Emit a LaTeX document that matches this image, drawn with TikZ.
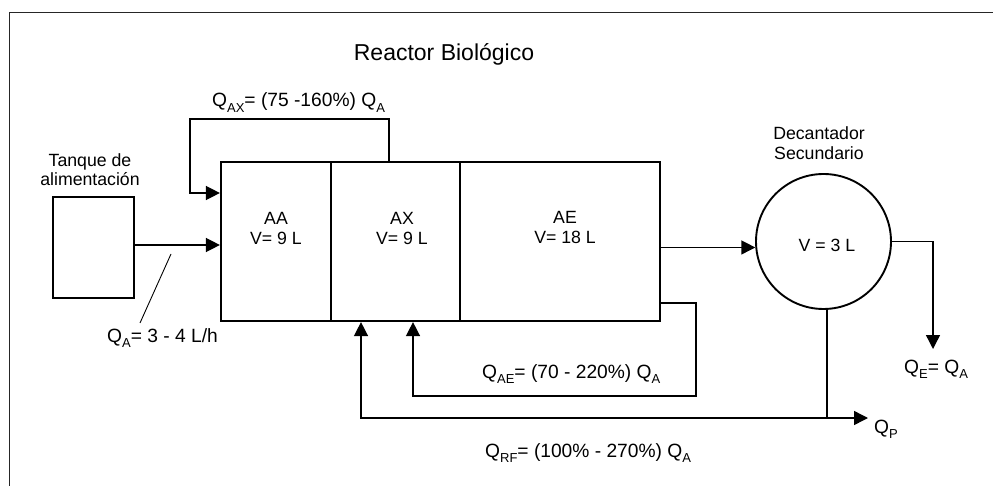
\documentclass[tikz,border=0pt]{standalone}
\usepackage{fontspec}
\setmainfont{Liberation Sans}
\usetikzlibrary{arrows.meta,calc}
\newcommand\sbs[1]{\raisebox{-5.5pt}{\fontsize{13}{14}\selectfont #1}}
\begin{document}
\begin{tikzpicture}[x=1pt,y=-1pt,
  wire/.style={line width=1.45pt},
  arr/.style={wire,-{Triangle[length=14pt,width=14pt]}},
  box/.style={draw,line width=2.2pt,inner sep=0pt},
  lab/.style={font=\fontsize{17.7}{20}\selectfont,anchor=base,inner sep=0pt},
  flow/.style={font=\fontsize{19.2}{22}\selectfont,anchor=base west,inner sep=0pt}]
\useasboundingbox (0,0) rectangle (993,486);
% frame
\draw[line width=1pt,black!85] (9,486) -- (9,13) -- (993,13);
% title
\node[anchor=base,inner sep=0pt,font=\fontsize{23}{26}\selectfont] (title) at (444,61) {Reactor Biológico};
% reactor compartments
\node[box,minimum width=110pt,minimum height=159pt] (AA) at (276,241.5) {};
\node[box,minimum width=129pt,minimum height=159pt] (AX) at (395.5,241.5) {};
\node[box,minimum width=200pt,minimum height=159pt] (AE) at (560,241.5) {};
\node[lab] (aa1) at (276,225) {AA};
\node[lab] (aa2) at (276,245) {V= 9 L};
\node[lab] (ax1t) at (402,225) {AX};
\node[lab] (ax2t) at (402,245) {V= 9 L};
\node[lab] (ae1t) at (565,224) {AE};
\node[lab] (ae2t) at (565,244) {V= 18 L};
% tank
\node[draw,wire,minimum width=81pt,minimum height=101pt,inner sep=0pt] (tank) at (93.5,247.5) {};
\node[lab] (t1) at (90,167) {Tanque de};
\node[lab] (t2) at (90,186) {alimentación};
% settler
\node[draw,circle,line width=1.9pt,minimum size=135pt,inner sep=0pt] (dec) at (823.5,241.5) {};
\node[lab] (d1) at (819,140) {Decantador};
\node[lab] (d2) at (819,160) {Secundario};
\node[lab] (d3) at (827,252) {V = 3 L};
% coordinates
\coordinate (yfeed) at (0,245);
\coordinate (yax) at (0,193);
\coordinate (ax1) at (389,119);
\coordinate (ax2) at (190,119);
\coordinate (ae1) at (696,303);
\coordinate (ae2) at (413,396);
\coordinate (rf1) at (827,418);
\coordinate (rf2) at (361,418);
\coordinate (qp) at (868,418);
\coordinate (ef1) at (933,241.5);
\coordinate (ef2) at (933,349);
\coordinate (l1) at (171,254);
\coordinate (l2) at (140,323);
% feed
\draw[arr] (tank.east |- yfeed) -- (AA.west |- yfeed);
\draw[line width=0.9pt] (l1) -- (l2);
% AX recirculation
\draw[arr] (AX.north -| ax1) -- (ax1) -- (ax2) -- (ax2 |- yax) -- (AA.west |- yax);
% to settler
\draw[arr] (AE.east |- dec.185) -- (dec.185);
% AE recirculation
\draw[arr] (AE.east |- ae1) -- (ae1) -- (ae1 |- ae2) -- (ae2) -- (ae2 |- AX.south);
% sludge return
\draw[wire] (dec.south -| rf1) -- (rf1);
\draw[arr] (rf1) -- (rf2) -- (rf2 |- AX.south);
\draw[arr] (rf1) -- (qp);
% effluent
\draw[arr] (dec.east) -- (ef1) -- (ef2);
% flow labels
\node[flow] (qax) at (212,107) {Q\sbs{AX}= (75 -160\%) Q\sbs{A}};
\node[flow] (qa) at (107,342) {Q\sbs{A}= 3 - 4 L/h};
\node[flow] (qae) at (482,378) {Q\sbs{AE}= (70 - 220\%) Q\sbs{A}};
\node[flow] (qrf) at (485,457) {Q\sbs{RF}= (100\% - 270\%) Q\sbs{A}};
\node[flow] (qe) at (904,373) {Q\sbs{E}= Q\sbs{A}};
\node[flow] (qpl) at (874,433) {Q\sbs{P}};
\end{tikzpicture}
\end{document}
